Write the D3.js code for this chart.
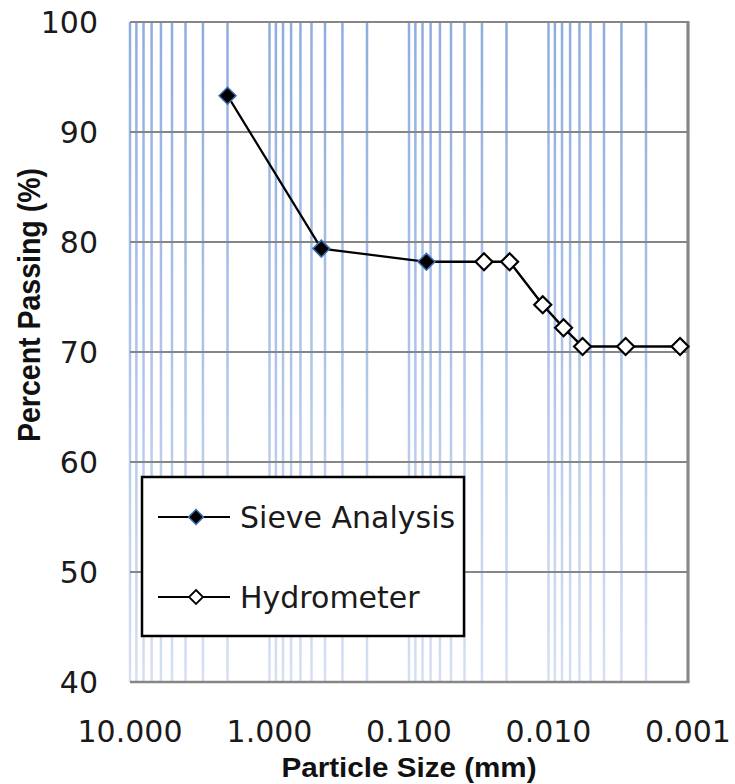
<!DOCTYPE html>
<html>
<head>
<meta charset="utf-8">
<script src="https://cdn.jsdelivr.net/npm/d3@7"></script>
<style>
  html, body { margin: 0; padding: 0; background: #fff; }
  svg { display: block; }
</style>
</head>
<body>
<svg id="chart" width="735" height="784"></svg>
<script>
// Grain-size distribution: sieve analysis + hydrometer readings
const sieveSize = [2.0, 0.425, 0.075];
const sievePassing = [93.3, 79.4, 78.2];
const hydroSize = [0.029, 0.019, 0.011, 0.0078, 0.0057, 0.0028, 0.00114];
const hydroPassing = [78.2, 78.2, 74.3, 72.2, 70.5, 70.5, 70.5];
const xTickValues = [10, 1, 0.1, 0.01, 0.001];
const yTickValues = [40, 50, 60, 70, 80, 90, 100];
const seriesNames = ["Sieve Analysis", "Hydrometer"];

const svg = d3.select("#chart");
const plot = { left: 130, right: 688, top: 22, bottom: 682 };

const x = d3.scaleLog().domain([10, 0.001]).range([plot.left, plot.right]);
const y = d3.scaleLinear().domain([40, 100]).range([plot.bottom, plot.top]);

// vertical gridline colour fades toward the bottom
const defs = svg.append("defs");
const grad = defs.append("linearGradient")
  .attr("id", "vgrid").attr("gradientUnits", "userSpaceOnUse")
  .attr("x1", 0).attr("y1", plot.top).attr("x2", 0).attr("y2", plot.bottom);
grad.append("stop").attr("offset", "0%").attr("stop-color", "#8eaddf");
grad.append("stop").attr("offset", "50%").attr("stop-color", "#adc3e9");
grad.append("stop").attr("offset", "100%").attr("stop-color", "#d6e0f3");

// log gridlines (1..9 per decade)
svg.append("g").selectAll("line")
  .data(x.ticks())
  .join("line")
  .attr("x1", d => x(d)).attr("x2", d => x(d))
  .attr("y1", plot.top).attr("y2", plot.bottom)
  .attr("stroke", "url(#vgrid)")
  .attr("stroke-width", 2.5);

// horizontal gridlines
svg.append("g").selectAll("line")
  .data(yTickValues.filter(v => v > 40))
  .join("line")
  .attr("x1", plot.left).attr("x2", plot.right)
  .attr("y1", d => y(d)).attr("y2", d => y(d))
  .attr("stroke", "#868686")
  .attr("stroke-width", 2);

// axis lines: bottom and right edge
svg.append("line")
  .attr("x1", plot.left).attr("x2", plot.right + 1.5)
  .attr("y1", plot.bottom).attr("y2", plot.bottom)
  .attr("stroke", "#868686").attr("stroke-width", 2.5);
svg.append("line")
  .attr("x1", plot.right).attr("x2", plot.right)
  .attr("y1", plot.top - 1).attr("y2", plot.bottom)
  .attr("stroke", "#868686").attr("stroke-width", 3);

// tick labels
const fmtX = d3.format(".3f");
svg.append("g").selectAll("text")
  .data(xTickValues)
  .join("text")
  .attr("x", d => x(d)).attr("y", 742)
  .attr("text-anchor", "middle")
  .attr("font-family", "DejaVu Sans")
  .attr("font-size", 30)
  .attr("fill", "#1a1a1a")
  .text(d => fmtX(d));

svg.append("g").selectAll("text")
  .data(yTickValues)
  .join("text")
  .attr("x", 98).attr("y", d => y(d))
  .attr("dy", "0.36em")
  .attr("text-anchor", "end")
  .attr("font-family", "DejaVu Sans")
  .attr("font-size", 30)
  .attr("fill", "#1a1a1a")
  .text(d => d);

// axis titles
svg.append("text")
  .attr("x", (plot.left + plot.right) / 2).attr("y", 777)
  .attr("text-anchor", "middle")
  .attr("font-family", "Liberation Sans, Arial, sans-serif")
  .attr("font-weight", "bold")
  .attr("font-size", 28)
  .attr("textLength", 255).attr("lengthAdjust", "spacingAndGlyphs")
  .attr("fill", "#111")
  .text("Particle Size (mm)");

svg.append("text")
  .attr("transform", "translate(40,305) rotate(-90)")
  .attr("text-anchor", "middle")
  .attr("font-family", "Liberation Sans, Arial, sans-serif")
  .attr("font-weight", "bold")
  .attr("font-size", 31)
  .attr("textLength", 274).attr("lengthAdjust", "spacingAndGlyphs")
  .attr("fill", "#111")
  .text("Percent Passing (%)");

// series
const sieve = sieveSize.map((s, i) => ({ s, p: sievePassing[i] }));
const hydro = hydroSize.map((s, i) => ({ s, p: hydroPassing[i] }));
const line = d3.line().x(d => x(d.s)).y(d => y(d.p));

svg.append("path")
  .datum(sieve)
  .attr("d", line)
  .attr("fill", "none").attr("stroke", "#000").attr("stroke-width", 2.2);

// hydrometer line continues from the finest sieve reading
svg.append("path")
  .datum([sieve[sieve.length - 1]].concat(hydro))
  .attr("d", line)
  .attr("fill", "none").attr("stroke", "#000").attr("stroke-width", 2.4);

const diamond = r => `M0,${-r}L${r},0L0,${r}L${-r},0Z`;

svg.append("g").selectAll("path")
  .data(sieve)
  .join("path")
  .attr("transform", d => `translate(${x(d.s)},${y(d.p)})`)
  .attr("d", diamond(8.5))
  .attr("fill", "#000").attr("stroke", "#3f6fb0").attr("stroke-width", 1.5);

svg.append("g").selectAll("path")
  .data(hydro)
  .join("path")
  .attr("transform", d => `translate(${x(d.s)},${y(d.p)})`)
  .attr("d", diamond(8.5))
  .attr("fill", "#fff").attr("stroke", "#000").attr("stroke-width", 2.2);

// legend
const lg = svg.append("g");
lg.append("rect")
  .attr("x", 142).attr("y", 477).attr("width", 322).attr("height", 159)
  .attr("fill", "#fff").attr("stroke", "#000").attr("stroke-width", 2.5);

const legendRows = [
  { name: seriesNames[0], y: 517, fill: "#000", stroke: "#3f6fb0", sw: 1.5, r: 7.5 },
  { name: seriesNames[1], y: 597, fill: "#fff", stroke: "#000", sw: 1.8, r: 7 }
];
const rows = lg.selectAll("g").data(legendRows).join("g");
rows.append("line")
  .attr("x1", 158).attr("x2", 230)
  .attr("y1", d => d.y).attr("y2", d => d.y)
  .attr("stroke", "#000").attr("stroke-width", 2.2);
rows.append("path")
  .attr("transform", d => `translate(196,${d.y})`)
  .attr("d", d => diamond(d.r))
  .attr("fill", d => d.fill).attr("stroke", d => d.stroke).attr("stroke-width", d => d.sw);
rows.append("text")
  .attr("x", 240).attr("y", d => d.y + 10.5)
  .attr("font-family", "DejaVu Sans")
  .attr("font-size", 30)
  .attr("fill", "#1a1a1a")
  .text(d => d.name);
</script>
</body>
</html>
